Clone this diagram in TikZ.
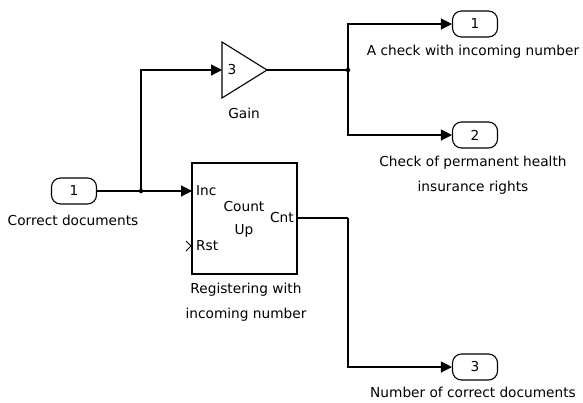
\documentclass[tikz,border=0pt]{standalone}
\usepackage{fontspec}
\setmainfont{DejaVu Sans}
\usetikzlibrary{arrows.meta}
\begin{document}
\begin{tikzpicture}[x=1pt,y=-1pt,
  lbl/.style={font=\fontsize{13.7}{16}\selectfont, inner sep=0pt, align=center},
  port/.style={draw, line width=1.1pt, rounded corners=9pt, minimum width=45pt, minimum height=26pt, inner sep=0pt, font=\fontsize{13.7}{16}\selectfont},
  wire/.style={line width=1.2pt},
  arr/.style={wire, -{Triangle[length=11pt,width=11pt]}},
  dotj/.style={circle, fill, inner sep=0pt, minimum size=4.5pt}]
\useasboundingbox (0,0) rectangle (583,402);
% ports
\node[port] (in1) at (74,191) {1};
\node[port] (out1) at (475,24) {1};
\node[port] (out2) at (475,135) {2};
\node[port] (out3) at (475,367) {3};
% gain
\coordinate (gin) at (222,70);
\coordinate (gout) at (267,70);
\draw[line width=1.1pt] (222,42) -- (gout) -- (222,98) -- cycle;
\node[lbl] (gval) at (232,70) {3};
% counter
\node[draw, line width=1.1pt, minimum width=105pt, minimum height=111pt, inner sep=0pt] (cnt) at (244.5,218.5) {};
\coordinate (inc) at (192,191);
\coordinate (cout) at (297,218);
\node[lbl, anchor=west] (tinc) at (196,191) {Inc};
\node[lbl, anchor=west] (trst) at (196,246) {Rst};
\node[lbl] (tcount) at (244,207) {Count};
\node[lbl] (tup) at (244,231) {Up};
\node[lbl, anchor=east] (tcnt) at (294,218) {Cnt};
\draw[line width=0.9pt] (186,241) -- (191,246) -- (186,251);
% junctions
\node[dotj] (j1) at (141,191) {};
\node[dotj] (j2) at (348,70) {};
\coordinate (c3) at (348,218);
% wires
\draw[wire] (in1.east) -- (j1.center);
\draw[arr] (j1.center) -- (inc);
\draw[arr] (j1.center) |- (gin);
\draw[wire] (gout) -- (j2.center);
\draw[arr] (j2.center) |- (out1.west);
\draw[arr] (j2.center) |- (out2.west);
\draw[wire] (cout) -- (c3);
\draw[arr] (c3) |- (out3.west);
% labels
\node[lbl] (lin1) at (73,220) {Correct documents};
\node[lbl] (lgain) at (244,113) {Gain};
\node[lbl] (lout1) at (473,52) {A check with incoming number};
\node[lbl] (lout2a) at (473,163) {Check of permanent health};
\node[lbl] (lout2b) at (473,188) {insurance rights};
\node[lbl] (lcnta) at (246,290) {Registering with};
\node[lbl] (lcntb) at (246,315) {incoming number};
\node[lbl] (lout3) at (473,392) {Number of correct documents};
\end{tikzpicture}
\end{document}
